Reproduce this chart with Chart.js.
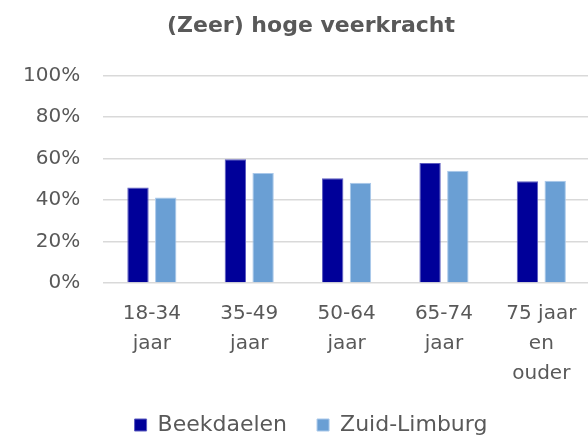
<!DOCTYPE html>
<html>
<head>
<meta charset="utf-8">
<script src="https://cdn.jsdelivr.net/npm/chart.js@4/dist/chart.umd.min.js"></script>
<style>
  html, body { margin: 0; padding: 0; background: #fff; overflow: hidden; }
  #wrap { width: 624px; height: 446px; }
</style>
</head>
<body>
<div id="wrap"><canvas id="barChart1"></canvas></div>
<script>
'use strict';

// categories and values
let categories = [['18-34', 'jaar'], ['35-49', 'jaar'], ['50-64', 'jaar'], ['65-74', 'jaar'], ['75 jaar', 'en', 'ouder']];
let beekdaelen = [46, 59.6, 50.5, 57.8, 49];
let zuidLimburg = [41.2, 53, 48.3, 54.1, 49.3];
let yTicks = [0, 20, 40, 60, 80, 100];

let textGrey = '#595959';
let ctx = document.getElementById('barChart1').getContext('2d');

new Chart(ctx, {
  type: 'bar',
  data: {
    labels: categories,
    datasets: [
      {
        label: 'Beekdaelen',
        data: beekdaelen,
        backgroundColor: '#000099',
        borderColor: '#5c5cc0',
        borderWidth: 1,
        categoryPercentage: 0.57,
        barPercentage: 0.77
      },
      {
        label: 'Zuid-Limburg',
        data: zuidLimburg,
        backgroundColor: '#6a9fd4',
        borderColor: '#a9c8ea',
        borderWidth: 1,
        categoryPercentage: 0.57,
        barPercentage: 0.77
      }
    ]
  },
  options: {
    responsive: true,
    maintainAspectRatio: false,
    animation: false,
    layout: { padding: { left: 0, right: 2, bottom: 0 } },
    plugins: {
      title: {
        display: true,
        text: '(Zeer) hoge veerkracht',
        color: textGrey,
        font: { family: 'DejaVu Sans', size: 22, weight: 'bold' },
        padding: { top: 13, bottom: 36 }
      },
      legend: {
        position: 'bottom',
        labels: {
          color: textGrey,
          font: { family: 'DejaVu Sans', size: 22 },
          boxWidth: 12,
          boxHeight: 12,
          padding: 30
        }
      },
      tooltip: { enabled: false }
    },
    scales: {
      x: {
        grid: { display: false, drawTicks: false },
        border: { display: false },
        ticks: {
          color: textGrey,
          font: { family: 'DejaVu Sans', size: 20, lineHeight: 1.5 },
          padding: 16,
          maxRotation: 0,
          autoSkip: false
        },
        afterFit: function(scale) {
          // let the label block run into the legend's top padding
          scale.height -= 21;
        }
      },
      y: {
        min: 0,
        max: 100,
        afterBuildTicks: function(axis) {
          axis.ticks = yTicks.map(function(v) { return { value: v }; });
        },
        grid: { color: '#d9d9d9', lineWidth: 1.5, drawTicks: false },
        border: { display: false },
        ticks: {
          color: textGrey,
          font: { family: 'DejaVu Sans', size: 20 },
          padding: 23,
          callback: function(v) { return v + '%'; }
        }
      },
      // empty right-hand axis, only keeps space free on the right
      yRight: {
        position: 'right',
        grid: { display: false, drawTicks: false },
        border: { display: false },
        ticks: { display: false },
        afterFit: function(scale) {
          scale.width = 32;
        }
      }
    }
  }
});
</script>
</body>
</html>
